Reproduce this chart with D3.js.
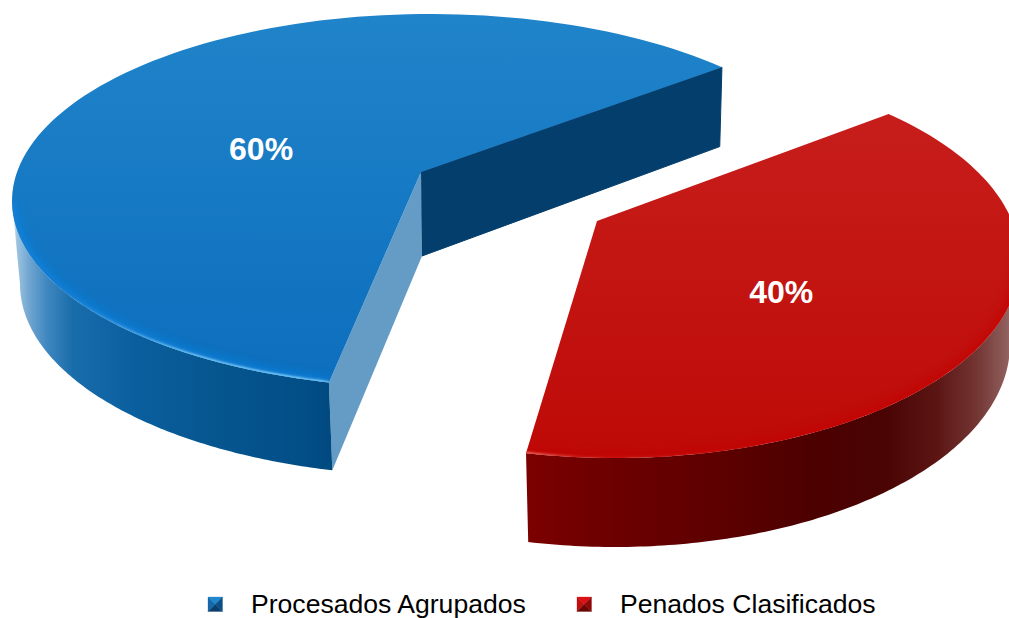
<!DOCTYPE html>
<html><head><meta charset="utf-8">
<script src="https://cdn.jsdelivr.net/npm/d3@7"></script>
<style>html,body{margin:0;padding:0;background:#fff;overflow:hidden}svg{display:block}text{font-family:"Liberation Sans",Arial,sans-serif}</style>
</head><body><svg id="c" width="1009" height="618"></svg>
<script>
const categories = ["Procesados Agrupados", "Penados Clasificados"];
const values = [60, 40];
const labels = ["60%", "40%"];

const rad = d => d * Math.PI / 180;
// Layout of each exploded slice in perspective (top rim, bottom rim, apex, angle correction)
const layouts = [
  {id:"b", top:{cx:430,cy:201,rx:418,ry:187}, bot:{cx:432,cy:284,rx:412,ry:192}, apex:[421,172], apexDepth:84,
   s0:194, k:0.9736, sideFrom:270, frontIsStart:true, label:[0.4627,0.5750],
   topStops:[["0%","#2084ca"],["100%","#0c6ebd"]],
   rim:"#0a86e6", shine:"#8fdcff",
   sideStops:[[0,"#ffffff"],[5,"#9cc3e0"],[18,"#6ea4cf"],[35,"#3f87c0"],[60,"#1a6dab"],[120,"#0b5f9f"],[200,"#06568f"],[270,"#03508a"],[320,"#014a80"]],
   wallA:"#659cc6", wallB:"#043e6c"},
  {id:"r", top:{cx:615,cy:260,rx:405,ry:198}, bot:{cx:615,cy:344,rx:395,ry:203}, apex:[597,221],
   s0:402.5, k:1.043, sideFrom:450, frontIsStart:false, label:[0.463,0.343],
   topStops:[["0%","#c8211e"],["100%","#be0a07"]],
   rim:"#c40000", shine:"#ff8f80",
   sideStops:[[0,"#7c0000"],[60,"#700000"],[180,"#5f0000"],[290,"#4c0000"],[360,"#4a0404"],[410,"#5b1614"],[450,"#733633"],[480,"#8f5f5d"],[500,"#b09392"]]}
];

const svg = d3.select("#c");
const defs = svg.append("defs");
const f1 = defs.append("filter").attr("id","blur4").attr("x","-10%").attr("y","-10%").attr("width","120%").attr("height","120%");
f1.append("feGaussianBlur").attr("stdDeviation",5);
const f2 = defs.append("filter").attr("id","blur1").attr("x","-10%").attr("y","-10%").attr("width","120%").attr("height","120%");
f2.append("feGaussianBlur").attr("stdDeviation",0.8);

const pie = d3.pie().sort(null).startAngle(rad(189)).endAngle(rad(549));
const arcs = pie(values);
const line = d3.line();
const pt = (e, deg) => [e.cx + e.rx * Math.sin(rad(deg)), e.cy - e.ry * Math.cos(rad(deg))];
const sweep = (e, a, b) => d3.range(0, 121).map(i => pt(e, a + (b - a) * i / 120));

arcs.forEach((arc, i) => {
  const L = layouts[i], g = svg.append("g");
  const a0 = L.s0, a1 = L.s0 + (arc.endAngle - arc.startAngle) * 180 / Math.PI * L.k;
  const topFace = [L.apex, ...sweep(L.top, a0, a1)];

  const tg = defs.append("linearGradient").attr("id","t"+L.id).attr("gradientUnits","userSpaceOnUse")
    .attr("x1",0).attr("x2",0).attr("y1",L.top.cy-L.top.ry).attr("y2",L.top.cy+L.top.ry);
  tg.selectAll("stop").data(L.topStops).join("stop").attr("offset",d=>d[0]).attr("stop-color",d=>d[1]);

  const x0 = i === 0 ? 12 : 527;
  const sg = defs.append("linearGradient").attr("id","s"+L.id).attr("gradientUnits","userSpaceOnUse")
    .attr("x1",x0).attr("x2",x0+(i===0?320:500)).attr("y1",0).attr("y2",0);
  sg.selectAll("stop").data(L.sideStops).join("stop")
    .attr("offset",d=>d[0]/(i===0?320:500)).attr("stop-color",d=>d[1]);

  // inner walls (blue only: the red slice hides its own)
  if (i === 0) {
    const bA = [L.apex[0]+1, L.apex[1]+L.apexDepth];
    g.append("path").attr("fill",L.wallB).attr("stroke",L.wallB).attr("stroke-width",1).attr("stroke-linejoin","round")
      .attr("d", line([L.apex, pt(L.top,a1), pt(L.bot,a1), bA]) + "Z");
    g.append("path").attr("fill",L.wallA)
      .attr("d", line([L.apex, pt(L.top,a0), pt(L.bot,a0), bA]) + "Z");
  }
  // curved outer wall
  const front = L.frontIsStart ? a0 : a1;
  g.append("path").attr("fill","url(#s"+L.id+")")
    .attr("d", line([...sweep(L.top, front, L.sideFrom), ...sweep(L.bot, L.sideFrom, front)]) + "Z");
  // top face
  g.append("path").attr("fill","url(#t"+L.id+")").attr("d", line(topFace) + "Z");
  // rim glow and highlight, clipped to the top face
  const clip = defs.append("clipPath").attr("id","c"+L.id);
  clip.append("path").attr("d", line(topFace) + "Z");
  const rimPts = sweep(L.top, front, L.sideFrom);
  const gl = g.append("g").attr("clip-path","url(#c"+L.id+")");
  gl.append("path").attr("d",line(rimPts)).attr("fill","none").attr("stroke",L.rim)
    .attr("stroke-width",10).attr("filter","url(#blur4)").attr("opacity",0.7);
  const shineId = "h"+L.id;
  const hg = defs.append("linearGradient").attr("id",shineId).attr("gradientUnits","userSpaceOnUse")
    .attr("x1",i===0?60:527).attr("x2",i===0?331:800).attr("y1",0).attr("y2",0);
  hg.selectAll("stop").data(i===0?[[0,0],[.5,.9],[.85,1],[1,.9]]:[[0,.8],[.2,.15],[1,0]]).join("stop")
    .attr("offset",d=>d[0]).attr("stop-color",L.shine).attr("stop-opacity",d=>d[1]);
  gl.append("path").attr("d",line(rimPts)).attr("fill","none").attr("stroke","url(#"+shineId+")")
    .attr("stroke-width",2.6).attr("filter","url(#blur1)");

  // value label at the slice's middle direction
  const m = (a0 + a1) / 2;
  svg.append("text").datum(labels[i])
    .attr("x", L.top.cx + L.label[0] * L.top.rx * Math.sin(rad(m)))
    .attr("y", L.top.cy - L.label[1] * L.top.ry * Math.cos(rad(m)))
    .attr("dy","0.36em").attr("text-anchor","middle")
    .attr("font-size",32).attr("font-weight",700).attr("fill","#fff").text(d=>d);
});

// legend
const legendX = d3.scaleOrdinal().domain(categories).range([208, 577]);
const swatchShades = [["#1f86d0","#1568ab","#0b4f86","#083f6e"],["#dc1016","#c20f0e","#8f0808","#6a0505"]];
const lg = svg.append("g").selectAll("g").data(categories).join("g")
  .attr("transform", d => `translate(${legendX(d)},597)`);
const sw = d3.scaleLinear().domain([0,1]).range([0,14.5]);
const c = [sw(.5),sw(.5)], tl=[0,0], tr=[sw(1),0], br=[sw(1),sw(1)], bl=[0,sw(1)];
[[tl,tr],[bl,tl],[tr,br],[br,bl]].forEach((e,j) => {
  lg.append("path").attr("fill",(d,i)=>swatchShades[i][j]).attr("stroke",(d,i)=>swatchShades[i][j]).attr("stroke-width",.3)
    .attr("d", line([e[0],e[1],c])+"Z");
});
lg.append("text").attr("transform","translate(43,15.6) scale(1.055,1)").attr("font-size",25.2).attr("fill","#000").text(d=>d);
</script></body></html>
